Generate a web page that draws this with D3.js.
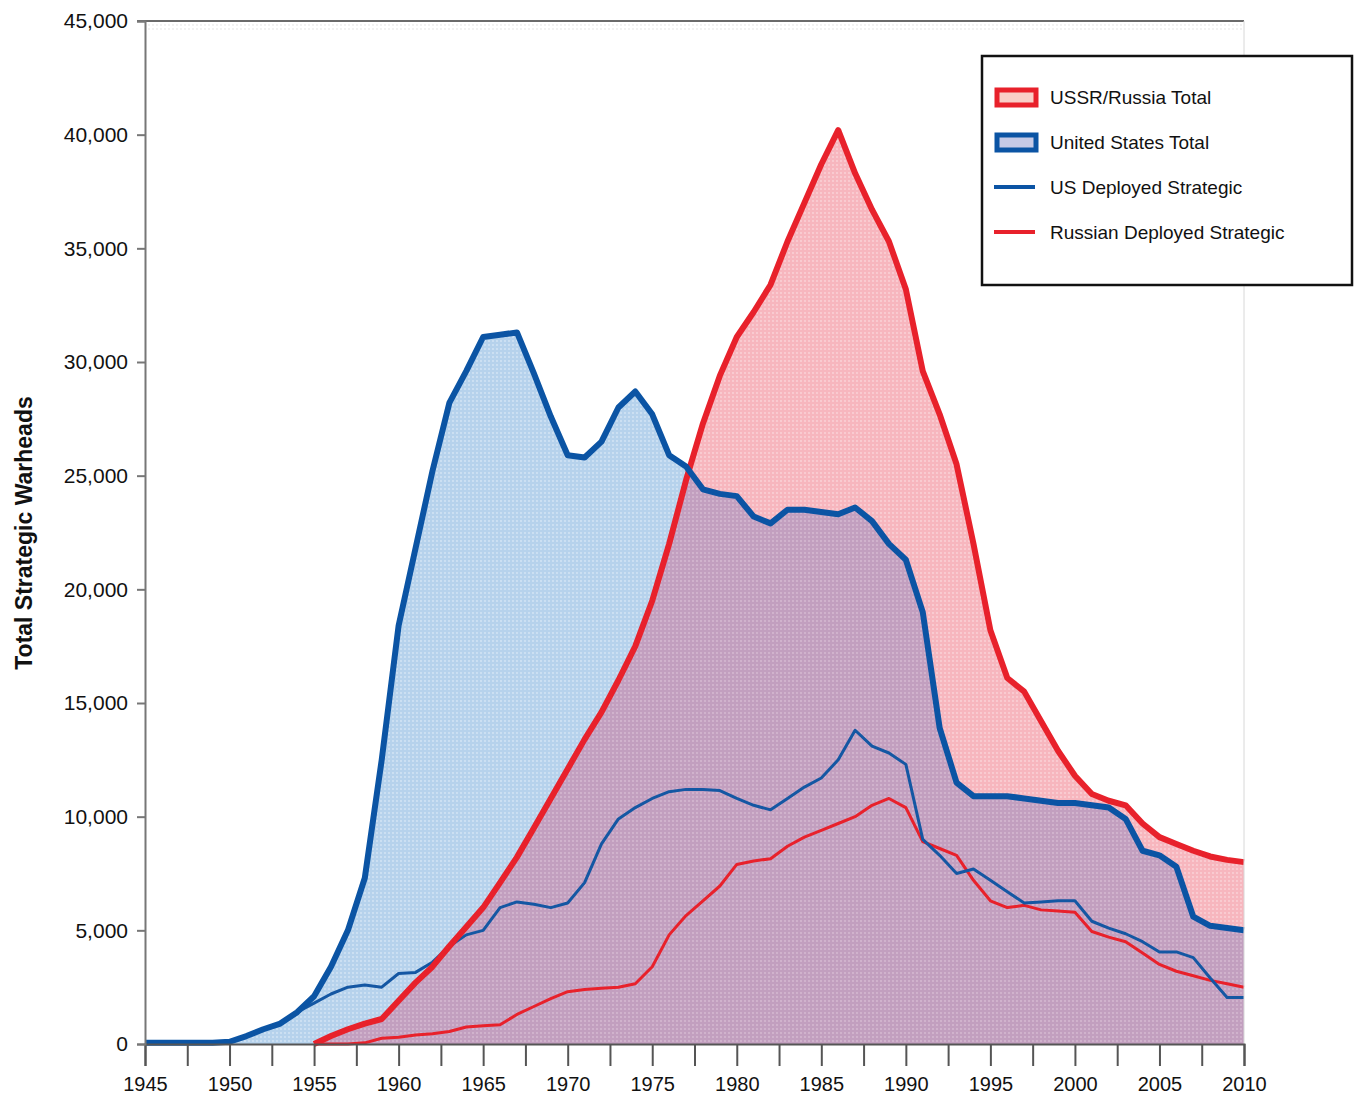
<!DOCTYPE html>
<html>
<head>
<meta charset="utf-8">
<script src="https://cdn.jsdelivr.net/npm/d3@7"></script>
<style>
  body { margin: 0; background: #fff; }
  svg { display: block; font-family: "Liberation Sans", Arial, sans-serif; }
</style>
</head>
<body>
<svg id="chart" width="1357" height="1098"></svg>
<script>
// years shared by every series (some series start later)
const years = d3.range(1945, 2011);

const usTotal = [50, 50, 50, 50, 50, 100, 350, 650, 900, 1400,
  2100, 3400, 5000, 7300, 12500, 18400, 21800, 25200, 28200, 29600,
  31100, 31200, 31300, 29500, 27600, 25900, 25800, 26500, 28000, 28700,
  27700, 25900, 25400, 24400, 24200, 24100, 23200, 22900, 23500, 23500,
  23400, 23300, 23600, 23000, 22000, 21300, 19000, 13900, 11500, 10900,
  10900, 10900, 10800, 10700, 10600, 10600, 10500, 10400, 9900, 8500,
  8300, 7800, 5600, 5200, 5100, 5000];

const usDeployed = [50, 50, 50, 50, 50, 100, 350, 650, 900, 1400,
  1800, 2200, 2500, 2600, 2500, 3100, 3150, 3600, 4300, 4800,
  5000, 6000, 6250, 6150, 6000, 6200, 7100, 8800, 9900, 10400,
  10800, 11100, 11200, 11200, 11150, 10800, 10500, 10300, 10800, 11300,
  11700, 12500, 13800, 13100, 12800, 12300, 9000, 8300, 7500, 7700,
  7200, 6700, 6200, 6250, 6300, 6300, 5400, 5100, 4850, 4500,
  4050, 4050, 3800, 2900, 2050, 2050];

// Soviet series start in 1955
const sovYears = d3.range(1955, 2011);

const ussrTotal = [0, 350, 650, 900, 1100, 1900, 2700, 3400, 4300, 5150,
  6000, 7100, 8220, 9500, 10800, 12100, 13400, 14600, 16000, 17500,
  19500, 22000, 24800, 27300, 29400, 31100, 32200, 33400, 35300, 37000,
  38700, 40200, 38300, 36700, 35300, 33200, 29600, 27700, 25500, 22000,
  18200, 16100, 15500, 14200, 12900, 11800, 11000, 10700, 10500, 9700,
  9100, 8800, 8500, 8250, 8100, 8000];

const ruDeployed = [0, 0, 0, 50, 250, 300, 400, 450, 550, 750,
  800, 850, 1300, 1650, 2000, 2300, 2400, 2450, 2500, 2650,
  3400, 4800, 5650, 6300, 6950, 7900, 8050, 8150, 8700, 9100,
  9400, 9700, 10000, 10500, 10800, 10400, 8900, 8600, 8300, 7200,
  6300, 6000, 6100, 5900, 5850, 5800, 4950, 4700, 4500, 4000,
  3500, 3200, 3000, 2800, 2650, 2500];

const yTicks = d3.range(0, 45001, 5000);
const xTicks = d3.range(1945, 2010.1, 2.5);

const legendItems = [
  { label: "USSR/Russia Total", kind: "box", stroke: "#e8212b", fill: "#f9cfc8" },
  { label: "United States Total", kind: "box", stroke: "#0b54a4", fill: "#c6cae6" },
  { label: "US Deployed Strategic", kind: "line", stroke: "#0b54a4" },
  { label: "Russian Deployed Strategic", kind: "line", stroke: "#e8212b" }
];

const svg = d3.select("#chart");

const x = d3.scaleLinear().domain([1945, 2010]).range([145, 1244]);
const y = d3.scaleLinear().domain([0, 45000]).range([1044, 21]);

// dotted halftone look of the printed fills
const defs = svg.append("defs");
function dotPattern(id, base, dot) {
  const p = defs.append("pattern")
    .attr("id", id)
    .attr("patternUnits", "userSpaceOnUse")
    .attr("width", 4).attr("height", 4);
  p.append("rect").attr("width", 4).attr("height", 4).attr("fill", base);
  p.append("circle").attr("cx", 1).attr("cy", 1).attr("r", 0.9).attr("fill", dot);
}
dotPattern("bluePat", "#b6d2ec", "#d6e6f6");
dotPattern("redPat", "#f7b6be", "#fbd5da");
dotPattern("mixPat", "#c29fbf", "#d7bcd3");
dotPattern("topPat", "#ffffff", "#ececec");

// faint hatching band along the top of the plot
svg.append("rect")
  .attr("x", 146).attr("y", 22)
  .attr("width", 1098).attr("height", 10)
  .attr("fill", "url(#topPat)");

const usRows = years.map((yr, i) => ({ yr, total: usTotal[i], dep: usDeployed[i] }));
const sovRows = sovYears.map((yr, i) => ({ yr, total: ussrTotal[i], dep: ruDeployed[i] }));

const area = d3.area()
  .x(d => x(d.yr))
  .y0(y(0))
  .y1(d => y(d.total));

const totalLine = d3.line().x(d => x(d.yr)).y(d => y(d.total));
const depLine = d3.line().x(d => x(d.yr)).y(d => y(d.dep));

// clip to the US area so the overlap can get its own colour
defs.append("clipPath").attr("id", "usClip")
  .append("path").datum(usRows).attr("d", area);

// fills
svg.append("path")
  .datum(usRows)
  .attr("d", area)
  .attr("fill", "url(#bluePat)");

svg.append("path")
  .datum(sovRows)
  .attr("d", area)
  .attr("fill", "url(#redPat)");

svg.append("path")
  .datum(sovRows)
  .attr("d", area)
  .attr("clip-path", "url(#usClip)")
  .attr("fill", "url(#mixPat)");

// deployed lines
svg.append("path")
  .datum(sovRows)
  .attr("d", depLine)
  .attr("fill", "none")
  .attr("stroke", "#e8212b")
  .attr("stroke-width", 3)
  .attr("stroke-linejoin", "round");

svg.append("path")
  .datum(usRows.filter(d => d.yr >= 1953))
  .attr("d", depLine)
  .attr("fill", "none")
  .attr("stroke", "#1457a3")
  .attr("stroke-width", 3)
  .attr("stroke-linejoin", "round");

// total lines
svg.append("path")
  .datum(sovRows)
  .attr("d", totalLine)
  .attr("fill", "none")
  .attr("stroke", "#e8212b")
  .attr("stroke-width", 6)
  .attr("stroke-linejoin", "round");

svg.append("path")
  .datum(usRows)
  .attr("d", totalLine)
  .attr("fill", "none")
  .attr("stroke", "#0b54a4")
  .attr("stroke-width", 6)
  .attr("stroke-linejoin", "round");

// frame: top and right edges
svg.append("line")
  .attr("x1", 137).attr("x2", 1244)
  .attr("y1", 21).attr("y2", 21)
  .attr("stroke", "#6a6a6a").attr("stroke-width", 2);
svg.append("line")
  .attr("x1", 1244).attr("x2", 1244)
  .attr("y1", 21).attr("y2", 1044)
  .attr("stroke", "#d8d8d8").attr("stroke-width", 1);

// axes
const xAxis = svg.append("g")
  .attr("transform", `translate(0,${y(0)})`)
  .call(d3.axisBottom(x)
    .tickValues(xTicks)
    .tickSize(22)
    .tickPadding(11)
    .tickFormat(d => (d % 5 === 0 ? d3.format("d")(d) : "")));
xAxis.select(".domain").attr("stroke", "#555").attr("stroke-width", 2);
xAxis.selectAll(".tick line").attr("stroke", "#555").attr("stroke-width", 2);
xAxis.selectAll("text").attr("font-size", 20).attr("fill", "#111")
  .attr("font-family", "Liberation Sans, Arial, sans-serif");

const yAxis = svg.append("g")
  .attr("transform", `translate(${x(1945)},0)`)
  .call(d3.axisLeft(y)
    .tickValues(yTicks)
    .tickSize(8)
    .tickPadding(9)
    .tickFormat(d3.format(",")));
yAxis.select(".domain").attr("stroke", "#777").attr("stroke-width", 2);
yAxis.selectAll(".tick line").attr("stroke", "#777").attr("stroke-width", 2);
yAxis.selectAll("text").attr("font-size", 21).attr("fill", "#111")
  .attr("font-family", "Liberation Sans, Arial, sans-serif");

// y label
svg.append("text")
  .attr("transform", "translate(32,533) rotate(-90)")
  .attr("text-anchor", "middle")
  .attr("font-size", 23)
  .attr("font-weight", "bold")
  .attr("fill", "#111")
  .text("Total Strategic Warheads");

// legend
const legend = svg.append("g");
legend.append("rect")
  .attr("x", 982).attr("y", 56)
  .attr("width", 370).attr("height", 229)
  .attr("fill", "#fff")
  .attr("stroke", "#111")
  .attr("stroke-width", 2.5);

legendItems.forEach((item, i) => {
  const cy = 97 + i * 45;
  if (item.kind === "box") {
    legend.append("rect")
      .attr("x", 997).attr("y", cy - 7)
      .attr("width", 39).attr("height", 15)
      .attr("fill", item.fill)
      .attr("stroke", item.stroke)
      .attr("stroke-width", 5);
  } else {
    legend.append("line")
      .attr("x1", 994).attr("x2", 1035)
      .attr("y1", cy).attr("y2", cy)
      .attr("stroke", item.stroke)
      .attr("stroke-width", 4);
  }
  legend.append("text")
    .attr("x", 1050).attr("y", cy + 7)
    .attr("font-size", 19)
    .attr("fill", "#111")
    .text(item.label);
});
</script>
</body>
</html>
